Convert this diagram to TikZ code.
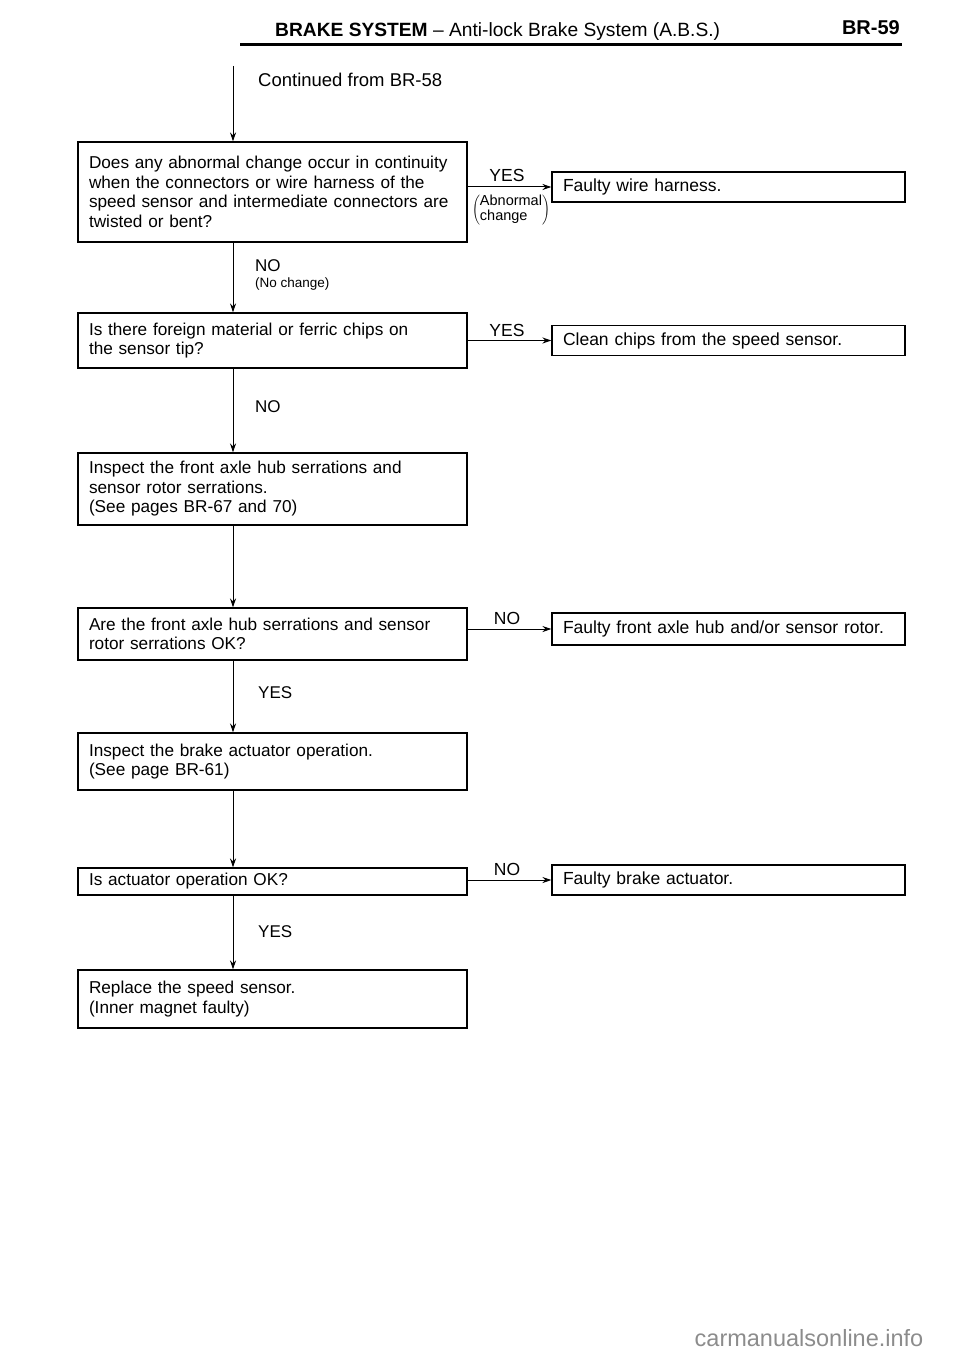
\documentclass[tikz,border=0pt]{standalone}
\usepackage{fontspec}
\setmainfont{Liberation Sans}
\usetikzlibrary{arrows.meta}
\begin{document}
\begin{tikzpicture}[x=1pt,y=-1pt,
  every node/.style={inner sep=0pt},
  qbox/.style={draw, line width=1.1pt, rectangle, minimum width=389pt, text width=367pt, align=left, font=\fontsize{17.2}{19.5}\selectfont},
  abox/.style={draw, line width=1.1pt, rectangle, minimum width=353pt, text width=331pt, align=left, minimum height=30pt, font=\fontsize{17.5}{19.5}\selectfont},
  arr/.style={line width=1pt, -{Stealth[length=9pt,width=6pt]}},
  lbl/.style={font=\fontsize{17}{19}\selectfont, anchor=west},
  hlbl/.style={font=\fontsize{17.5}{19}\selectfont, anchor=south}]
\useasboundingbox (0,0) rectangle (960,1356);
% header
\node[anchor=base west, font=\fontsize{19.2}{22}\selectfont] (hdr) at (275,37) {\textbf{BRAKE SYSTEM} -- Anti-lock Brake System (A.B.S.)};
\node[anchor=base east, font=\bfseries\fontsize{20}{22}\selectfont] (pg) at (900,35) {BR-59};
\draw[line width=2.8pt] (240,44.5) -- (902,44.5);
% spine
\coordinate (spine) at (233,0);
\coordinate (top) at (233,66);
\node[lbl, font=\fontsize{18.5}{20}\selectfont] (cont) at (258,80) {Continued from BR-58};
% question boxes
\node[qbox, minimum height=100pt] (b1) at (272.5,192) {Does any abnormal change occur in continuity\\when the connectors or wire harness of the\\speed sensor and intermediate connectors are\\twisted or bent?};
\node[qbox, minimum height=55pt] (b3) at (272.5,340.5) {Is there foreign material or ferric chips on\\the sensor tip?};
\node[qbox, minimum height=72pt] (b5) at (272.5,489) {Inspect the front axle hub serrations and\\sensor rotor serrations.\\(See pages BR-67 and 70)};
\node[qbox, minimum height=52pt] (b6) at (272.5,634) {Are the front axle hub serrations and sensor\\rotor serrations OK?};
\node[qbox, minimum height=57pt] (b8) at (272.5,761.5) {Inspect the brake actuator operation.\\(See page BR-61)};
\node[qbox, minimum height=27pt] (b9) at (272.5,881.5) {Is actuator operation OK?};
\node[qbox, minimum height=58pt] (b11) at (272.5,999) {Replace the speed sensor.\\(Inner magnet faulty)};
% answer boxes
\node[abox] (b2) at (728.5,187) {Faulty wire harness.};
\node[abox] (b4) at (728.5,340.5) {Clean chips from the speed sensor.};
\node[abox, minimum height=32pt] (b7) at (728.5,629) {Faulty front axle hub and/or sensor rotor.};
\node[abox] (b10) at (728.5,880) {Faulty brake actuator.};
% vertical connectors
\draw[arr] (top) -- (b1.north -| spine);
\draw[arr] (b1.south -| spine) -- (b3.north -| spine);
\draw[arr] (b3.south -| spine) -- (b5.north -| spine);
\draw[arr] (b5.south -| spine) -- (b6.north -| spine);
\draw[arr] (b6.south -| spine) -- (b8.north -| spine);
\draw[arr] (b8.south -| spine) -- (b9.north -| spine);
\draw[arr] (b9.south -| spine) -- (b11.north -| spine);
% horizontal connectors
\draw[arr] (b1.east |- b2.west) -- (b2.west);
\draw[arr] (b3.east |- b4.west) -- (b4.west);
\draw[arr] (b6.east |- b7.west) -- (b7.west);
\draw[arr] (b9.east |- b10.west) -- (b10.west);
% labels
\node[hlbl] (y1) at (507,182) {YES};
\node[font=\fontsize{14.5}{15}\selectfont] (ab) at (511,210) {$\left(\begin{tabular}{@{}l@{}}Abnormal\\[-1pt]change\end{tabular}\right)$};
\node[lbl] (n1) at (255,266) {NO};
\node[lbl, font=\fontsize{13.5}{15}\selectfont] (n1b) at (255,284) {(No change)};
\node[hlbl] (y2) at (507,337) {YES};
\node[lbl] (n2) at (255,407) {NO};
\node[hlbl] (n3) at (507,625) {NO};
\node[lbl] (y3) at (258,693) {YES};
\node[hlbl] (n4) at (507,876) {NO};
\node[lbl] (y4) at (258,932) {YES};
% watermark
\node[font=\fontsize{23.5}{26}\selectfont, text=black!45] (wm) at (809,1338) {carmanualsonline.info};
\end{tikzpicture}
\end{document}
